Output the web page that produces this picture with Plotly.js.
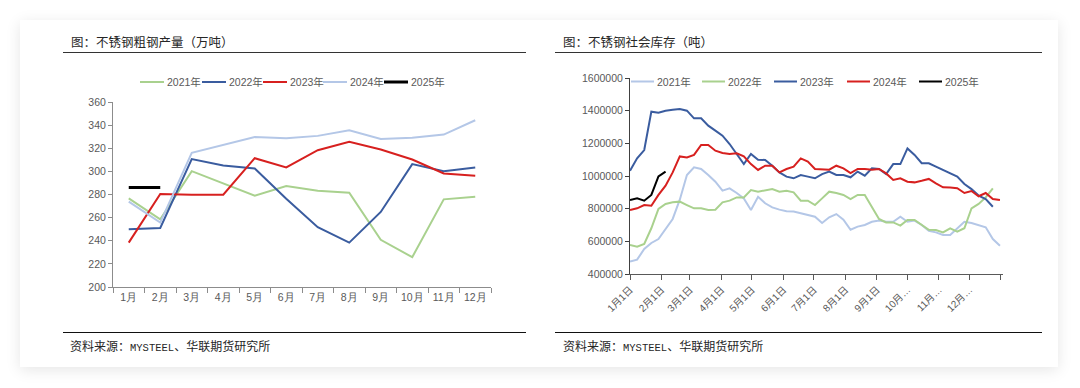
<!DOCTYPE html>
<html>
<head>
<meta charset="utf-8">
<script src="https://cdn.plot.ly/plotly-3.0.1.min.js"></script>
<style>
  html, body { margin: 0; padding: 0; background: #ffffff; width: 1080px; height: 388px; overflow: hidden; }
  #card { position: absolute; left: 20px; top: 20px; width: 1038px; height: 347px; background: #fff;
          box-shadow: 0 3px 14px rgba(0,0,0,0.10); }
  .title { position: absolute; font-family: "Noto Sans CJK SC", sans-serif; font-size: 12.5px; color: #262626; line-height: 16px; white-space: nowrap; }
  .rule { position: absolute; height: 1.5px; background: #333; }
  .src { position: absolute; font-family: "Noto Sans CJK SC", sans-serif; font-size: 12px; color: #262626; line-height: 16px; white-space: nowrap; }
  .src .lat { font-family: "Liberation Mono", monospace; font-size: 10.5px; }
  .chart { position: absolute; top: 0; width: 540px; height: 388px; }
</style>
</head>
<body>
<div id="card"></div>
<div class="title" style="left:71px; top:34px;">图：不锈钢粗钢产量（万吨）</div>
<div class="title" style="left:563px; top:34px;">图：不锈钢社会库存（吨）</div>
<div class="rule" style="left:63px; top:51.5px; width:463px;"></div>
<div class="rule" style="left:555px; top:51.5px; width:487px;"></div>
<div class="rule" style="left:63px; top:331.5px; width:463px; background:#111;"></div>
<div class="rule" style="left:555px; top:331.5px; width:487px; background:#111;"></div>
<div class="src" style="left:70px; top:338px;">资料来源：<span class="lat">MYSTEEL</span>、华联期货研究所</div>
<div class="src" style="left:563px; top:338px;">资料来源：<span class="lat">MYSTEEL</span>、华联期货研究所</div>
<div id="left" class="chart" style="left:0px;"></div>
<div id="right" class="chart" style="left:540px;"></div>
<script>
// ---------- Left chart: stainless crude steel output (10k t) ----------
const months = ['1月','2月','3月','4月','5月','6月','7月','8月','9月','10月','11月','12月'];
const prod2021 = [276.7, 258.6, 300.2, 289.6, 279.0, 287.3, 283.3, 281.5, 240.8, 225.8, 275.8, 278.1];
const prod2022 = [250.0, 251.0, 310.6, 305.1, 302.5, 276.4, 251.7, 238.4, 264.9, 306.3, 300.2, 303.4];
const prod2023 = [238.4, 280.4, 279.8, 279.8, 311.4, 303.4, 318.3, 325.5, 318.9, 310.3, 298.2, 296.2];
const prod2024 = [273.8, 255.7, 316.0, 322.6, 329.8, 328.7, 330.7, 335.6, 328.1, 329.0, 331.8, 344.2];
const prod2025 = [286.1, 286.1];

// ---------- Right chart: stainless social inventory (t), weekly ----------
const inv2021 = [476000,488000,553000,590000,614000,676000,737000,855000,1006000,1053000,
  1043000,1006000,965000,910000,924000,896000,863000,792000,873000,833000,
  808000,794000,784000,782000,773000,761000,751000,712000,747000,767000,
  733000,671000,690000,700000,720000,727000,720000,720000,751000,720000,
  727000,700000,665000,655000,639000,639000,680000,720000,712000,700000,
  686000,614000,573000];
const inv2022 = [577000,567000,584000,680000,798000,829000,839000,843000,822000,802000,
  802000,792000,794000,839000,849000,869000,869000,914000,904000,914000,
  920000,904000,910000,900000,849000,849000,822000,863000,904000,896000,
  884000,859000,884000,884000,814000,737000,716000,716000,696000,731000,
  731000,700000,671000,669000,655000,680000,659000,680000,802000,829000,
  869000,924000];
const inv2023 = [1032000,1108000,1159000,1394000,1388000,1400000,1406000,1410000,1400000,1353000,
  1353000,1308000,1278000,1247000,1196000,1135000,1073000,1135000,1100000,1098000,
  1063000,1022000,996000,986000,1006000,996000,986000,1012000,1027000,1006000,
  1006000,992000,1027000,1002000,1047000,1043000,1012000,1073000,1073000,1169000,
  1129000,1078000,1078000,1057000,1037000,1016000,996000,951000,920000,880000,
  859000,812000];
const inv2024 = [792000,802000,822000,818000,884000,941000,1022000,1120000,1114000,1129000,
  1190000,1190000,1155000,1141000,1135000,1139000,1120000,1073000,1037000,1063000,
  1063000,1022000,1043000,1057000,1108000,1088000,1043000,1039000,1039000,1063000,
  1047000,1018000,1043000,1043000,1039000,1043000,1016000,976000,986000,965000,
  961000,971000,982000,955000,931000,929000,925000,896000,908000,876000,
  896000,859000,853000];
const inv2025 = [853000,863000,849000,884000,998000,1027000];

const tickDates = ['2023-01-01','2023-02-01','2023-03-01','2023-04-01','2023-05-01','2023-06-01',
  '2023-07-01','2023-08-01','2023-09-01','2023-10-01','2023-11-01','2023-12-01','2024-01-01'];
const tickLabels = ['1月1日','2月1日','3月1日','4月1日','5月1日','6月1日','7月1日','8月1日','9月1日',
  '10月…','11月…','12月…',''];

// weekly category dates on a common calendar year
function weekDates(n) {
  const out = [];
  const start = Date.UTC(2023, 0, 1);
  for (let i = 0; i < n; i++) {
    const d = new Date(start + i * 7 * 86400000);
    out.push(d.toISOString().slice(0, 10));
  }
  return out;
}

const tickFont = { family: 'Liberation Sans, Arial, sans-serif', size: 10.5, color: '#595959' };
const legFont = { family: 'Liberation Sans, Arial, "Noto Sans CJK SC", sans-serif', size: 10.5, color: '#595959' };

const C_LB = '#b4c7e7', C_G = '#a9d18e', C_B = '#3a5c9f', C_R = '#d7201f', C_K = '#000000';

function ln(x, y, name, color, w) {
  return { type: 'scatter', mode: 'lines', x: x, y: y, name: name,
           line: { color: color, width: w || 2 }, hoverinfo: 'skip', showlegend: false };
}

// Custom one-row legend: swatch + label, placed in pixel terms converted to paper coords
function buildLegend(traces, margin, W, H, starts, yPx, swatchLen, textOff) {
  const pw = W - margin.l - margin.r, ph = H - margin.t - margin.b;
  const px2x = p => (p - margin.l) / pw;
  const py2y = p => (H - margin.b - p) / ph;
  const shapes = [], annotations = [];
  traces.forEach((t, i) => {
    shapes.push({ type: 'line', xref: 'paper', yref: 'paper',
      x0: px2x(starts[i]), x1: px2x(starts[i] + swatchLen), y0: py2y(yPx), y1: py2y(yPx),
      line: { color: t.line.color, width: t.line.width } });
    annotations.push({ xref: 'paper', yref: 'paper', x: px2x(starts[i] + textOff), y: py2y(yPx),
      xanchor: 'left', yanchor: 'middle', text: t.name, showarrow: false, font: legFont, borderpad: 0 });
  });
  return { shapes, annotations };
}

const leftTraces = [
  ln(months, prod2021, '2021年', C_G),
  ln(months, prod2022, '2022年', C_B),
  ln(months, prod2023, '2023年', C_R),
  ln(months, prod2024, '2024年', C_LB),
  ln(months.slice(0, prod2025.length), prod2025, '2025年', C_K, 3)
];

const leftMargin = { l: 113, r: 49, t: 102, b: 101 };
const leftLeg = buildLegend(leftTraces, leftMargin, 540, 388, [140, 202, 263, 323, 384], 82, 24, 26);

const leftLayout = {
  width: 540, height: 388,
  margin: leftMargin,
  paper_bgcolor: 'rgba(0,0,0,0)', plot_bgcolor: 'rgba(0,0,0,0)',
  showlegend: false,
  shapes: leftLeg.shapes, annotations: leftLeg.annotations,
  xaxis: { type: 'category', range: [-0.5, 11.5], showgrid: false, zeroline: false,
           showline: true, linecolor: '#8c8c8c', linewidth: 1, tickangle: 0,
           ticks: 'outside', ticklen: 5, tickcolor: '#8c8c8c', tickson: 'boundaries',
           tickfont: tickFont, fixedrange: true },
  yaxis: { range: [200, 360], dtick: 20, showgrid: false, zeroline: false,
           showline: true, linecolor: '#8c8c8c', linewidth: 1,
           ticks: 'outside', ticklen: 4, tickcolor: '#8c8c8c',
           tickfont: tickFont, fixedrange: true }
};

const rightTraces = [
  ln(weekDates(inv2021.length), inv2021, '2021年', C_LB),
  ln(weekDates(inv2022.length), inv2022, '2022年', C_G),
  ln(weekDates(inv2023.length), inv2023, '2023年', C_B),
  ln(weekDates(inv2024.length), inv2024, '2024年', C_R),
  ln(weekDates(inv2025.length), inv2025, '2025年', C_K)
];

const rightMargin = { l: 90, r: 77, t: 78, b: 114 };
const rightLeg = buildLegend(rightTraces, rightMargin, 540, 388,
  [631 - 540, 702 - 540, 774 - 540, 847 - 540, 919 - 540], 81.5, 23, 25);

const rightLayout = {
  width: 540, height: 388,
  margin: rightMargin,
  paper_bgcolor: 'rgba(0,0,0,0)', plot_bgcolor: 'rgba(0,0,0,0)',
  showlegend: false,
  shapes: rightLeg.shapes, annotations: rightLeg.annotations,
  xaxis: { type: 'date', range: ['2023-01-01', '2024-01-03'], showgrid: false, zeroline: false,
           showline: true, linecolor: '#595959', linewidth: 1,
           tickmode: 'array', tickvals: tickDates, ticktext: tickLabels, tickangle: -45,
           ticks: 'outside', ticklen: 5, tickcolor: '#595959',
           tickfont: { family: 'Liberation Sans, Arial, "Noto Sans CJK SC", sans-serif', size: 10, color: '#595959' },
           fixedrange: true },
  yaxis: { range: [400000, 1600000], dtick: 200000, tickformat: 'd', showgrid: false, zeroline: false,
           showline: true, linecolor: '#404040', linewidth: 1,
           ticks: 'outside', ticklen: 4, tickcolor: '#404040',
           tickfont: tickFont, fixedrange: true }
};

Plotly.newPlot('left', leftTraces, leftLayout, { displayModeBar: false, staticPlot: true });
Plotly.newPlot('right', rightTraces, rightLayout, { displayModeBar: false, staticPlot: true });
</script>
</body>
</html>
